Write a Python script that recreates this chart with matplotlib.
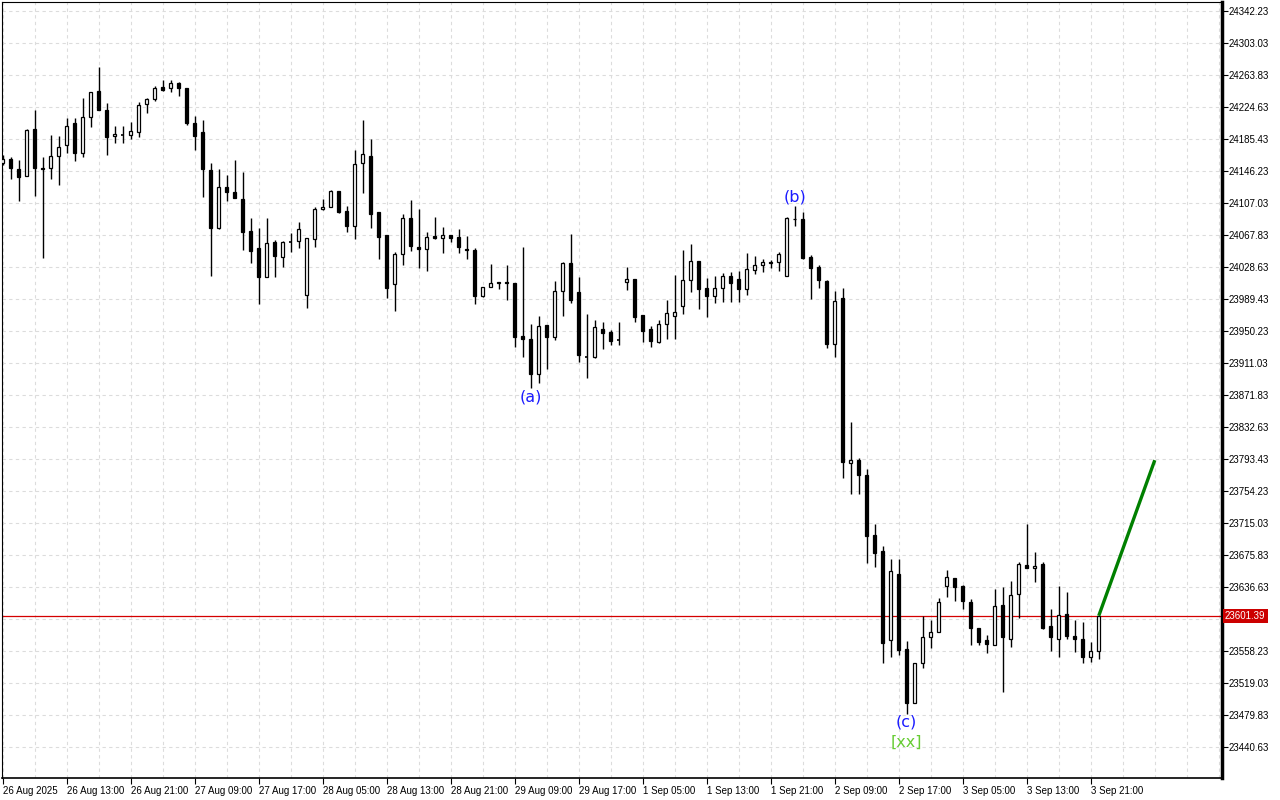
import matplotlib.pyplot as plt
import matplotlib.transforms as mtransforms

# hourly OHLC, 26 Aug 2025 .. 3 Sep 2025
opens = [24156, 24161, 24149, 24140, 24198, 24150, 24150, 24165, 24178, 24205,
         24168, 24212, 24244, 24221, 24189, 24190, 24190, 24194, 24228, 24234,
         24249, 24248, 24254, 24248, 24205, 24194, 24147, 24076, 24127, 24120,
         24112, 24073, 24052, 24016, 24059, 24041, 24059, 24060, 23994, 24063,
         24100, 24102, 24122, 24097, 24079, 24156, 24165, 24096, 24068, 24008,
         24045, 24089, 24053, 24051, 24067, 24064, 24068, 24065, 24051, 24049,
         23993, 24004, 24010, 24010, 24009, 23944, 23940, 23898, 23958, 23943,
         23999, 24034, 23998, 23918, 23918, 23953, 23949, 23939, 24010, 24014,
         23970, 23953, 23937, 23959, 23969, 23981, 24013, 24036, 24003, 23993,
         24003, 24018, 24014, 24002, 24025, 24031, 24035, 24035, 24018, 24087,
         24087, 24041, 24029, 24011, 23934, 23991, 23788, 23792, 23774, 23700,
         23681, 23572, 23653, 23561, 23495, 23544, 23575, 23582, 23638, 23648,
         23638, 23618, 23586, 23572, 23566, 23615, 23573, 23628, 23664, 23660,
         23665, 23589, 23573, 23604, 23577, 23573, 23551, 23558]
highs = [24166, 24163, 24160, 24198, 24221, 24163, 24190, 24189, 24211, 24211,
         24236, 24243, 24274, 24230, 24201, 24201, 24206, 24231, 24236, 24250,
         24258, 24258, 24255, 24248, 24214, 24209, 24156, 24149, 24141, 24160,
         24145, 24089, 24076, 24089, 24062, 24060, 24070, 24084, 24064, 24102,
         24112, 24123, 24122, 24103, 24172, 24209, 24185, 24096, 24068, 24047,
         24094, 24111, 24100, 24071, 24090, 24078, 24068, 24075, 24067, 24052,
         24004, 24032, 24010, 24031, 24009, 24053, 23959, 23969, 23958, 24011,
         24035, 24069, 24016, 23971, 23964, 23961, 23951, 23961, 24029, 24014,
         23970, 23956, 23964, 23988, 24019, 24049, 24057, 24036, 24015, 24018,
         24021, 24023, 24024, 24046, 24042, 24038, 24037, 24047, 24090, 24103,
         24096, 24043, 24031, 24013, 23999, 24003, 23839, 23795, 23781, 23714,
         23687, 23671, 23671, 23570, 23544, 23601, 23596, 23623, 23657, 23648,
         23639, 23622, 23586, 23578, 23634, 23637, 23644, 23667, 23714, 23680,
         23667, 23610, 23638, 23631, 23596, 23594, 23569, 23601]
lows = [24154, 24136, 24109, 24140, 24116, 24040, 24136, 24129, 24168, 24158,
        24163, 24200, 24221, 24166, 24181, 24181, 24185, 24188, 24217, 24232,
        24244, 24243, 24238, 24203, 24172, 24114, 24018, 24075, 24109, 24113,
        24049, 24034, 23983, 24016, 24016, 24029, 24047, 24052, 23978, 24053,
        24098, 24102, 24095, 24071, 24063, 24119, 24076, 24038, 23991, 23975,
        24031, 24048, 24027, 24024, 24063, 24046, 24059, 24046, 24038, 23983,
        23992, 24004, 24002, 23988, 23931, 23918, 23880, 23887, 23904, 23939,
        23969, 23985, 23912, 23893, 23917, 23928, 23933, 23933, 24000, 23961,
        23937, 23931, 23935, 23940, 23940, 23971, 23998, 23977, 23967, 23985,
        23986, 23986, 23986, 23994, 24020, 24023, 24027, 24024, 24018, 24079,
        24038, 23989, 24003, 23929, 23918, 23770, 23751, 23751, 23666, 23661,
        23544, 23551, 23553, 23481, 23495, 23537, 23562, 23582, 23624, 23619,
        23610, 23566, 23566, 23556, 23566, 23508, 23563, 23599, 23660, 23643,
        23585, 23558, 23551, 23573, 23557, 23544, 23545, 23548]
closes = [24161, 24150, 24139, 24196, 24150, 24149, 24165, 24176, 24201, 24168,
          24212, 24243, 24221, 24188, 24192, 24190, 24195, 24227, 24234, 24248,
          24245, 24254, 24248, 24205, 24189, 24149, 24076, 24127, 24120, 24113,
          24071, 24048, 24016, 24058, 24042, 24059, 24059, 24075, 24064, 24100,
          24102, 24122, 24096, 24079, 24155, 24167, 24094, 24065, 24003, 24045,
          24089, 24054, 24051, 24065, 24064, 24068, 24064, 24053, 24049, 23993,
          24004, 24009, 24009, 24009, 23943, 23940, 23898, 23956, 23943, 23999,
          24034, 23988, 23921, 23918, 23955, 23948, 23938, 23939, 24014, 23967,
          23950, 23938, 23959, 23972, 23974, 24013, 24036, 24002, 23993, 24003,
          24018, 24009, 24002, 24026, 24031, 24035, 24034, 24045, 24089, 24088,
          24040, 24027, 24013, 23934, 23987, 23790, 23792, 23774, 23699, 23678,
          23568, 23656, 23559, 23495, 23544, 23575, 23582, 23618, 23649, 23637,
          23619, 23586, 23569, 23567, 23613, 23575, 23627, 23665, 23660, 23662,
          23586, 23575, 23602, 23577, 23573, 23551, 23558, 23601.39]

time_labels = ["26 Aug 2025", "26 Aug 13:00", "26 Aug 21:00", "27 Aug 09:00",
               "27 Aug 17:00", "28 Aug 05:00", "28 Aug 13:00", "28 Aug 21:00",
               "29 Aug 09:00", "29 Aug 17:00", "1 Sep 05:00", "1 Sep 13:00",
               "1 Sep 21:00", "2 Sep 09:00", "2 Sep 17:00", "3 Sep 05:00",
               "3 Sep 13:00", "3 Sep 21:00"]
label_idx = [0, 8, 16, 24, 32, 40, 48, 56, 64, 72, 80, 88, 96, 104, 112, 120, 128, 136]

price_ticks = [23440.63, 23479.83, 23519.03, 23558.23, 23597.43, 23636.63,
               23675.83, 23715.03, 23754.23, 23793.43, 23832.63, 23871.83,
               23911.03, 23950.23, 23989.43, 24028.63, 24067.83, 24107.03,
               24146.23, 24185.43, 24224.63, 24263.83, 24303.03, 24342.23]

last_price = 23601.39
target_idx = 144
target_price = 23792

wave_names = ["(a)", "(b)", "(c)"]
wave_idx = [66, 99, 113]
wave_price = [23869, 24114, 23471]
degree_name = "[xx]"
degree_price = 23447

plt.rcParams['font.family'] = ['Liberation Sans', 'DejaVu Sans']

fig = plt.figure(figsize=(12.8, 8), dpi=100)
ax = fig.add_axes([1.5 / 1280, 22 / 800, 1220.5 / 1280, 776 / 800])

n = len(closes)
xs = list(range(n))

# wicks
ax.vlines(xs, lows, highs, color='black', lw=1, zorder=2)

# bodies
for i in xs:
    o, c = opens[i], closes[i]
    bottom = min(o, c)
    h = abs(c - o)
    face = 'white' if c > o else 'black'
    if h < 0.6:
        ax.hlines(o, i - 0.22, i + 0.22, color='black', lw=1.2, zorder=3)
    else:
        ax.bar(i, h, bottom=bottom, width=0.42, color=face,
               edgecolor='black', linewidth=0.9, zorder=3)

# projection line
ax.plot([n - 1, target_idx], [last_price, target_price], color='#008000',
        lw=2.4, zorder=4, solid_capstyle='butt')

# current price line
ax.axhline(last_price, color='#d40000', lw=0.9, zorder=1)

# wave labels
for name, i, p in zip(wave_names, wave_idx, wave_price):
    ax.text(i, p, name, color='#1a1aff', fontsize=11.5, ha='center',
            va='center', family='DejaVu Sans', zorder=5)
ax.text(wave_idx[2], degree_price, degree_name, color='#66cc33', fontsize=11.5,
        ha='center', va='center', family='DejaVu Sans', zorder=5)

ax.set_xlim(-0.125, 152.4)
ax.set_ylim(23402.66, 24353.26)

# grid
ax.set_xticks(label_idx)
ax.set_xticks(range(0, 153, 4), minor=True)
ax.set_yticks(price_ticks)
ax.grid(True, which='both', axis='x', color='#dcdcdc', ls=(0, (3, 3)), lw=0.8)
ax.grid(True, which='major', axis='y', color='#dcdcdc', ls=(0, (3, 3)), lw=0.8)
ax.set_axisbelow(True)

ax.set_xticklabels(time_labels, ha='left', fontsize=7)
ax.tick_params(axis='x', which='major', length=4, width=0.8, pad=1.5,
               direction='out')
ax.tick_params(axis='x', which='minor', length=0)

ax.yaxis.tick_right()
# the tick right under the price tag is hidden by it, as in the terminal
ylabels = ["" if abs(v - last_price) < 10 else f"{v:.2f}" for v in price_ticks]
ax.set_yticklabels(ylabels, fontsize=7)
ax.tick_params(axis='y', length=4, width=0.8, pad=1)

for s in ax.spines.values():
    s.set_color('black')
    s.set_linewidth(0.8)
ax.spines['right'].set_linewidth(2.5)
ax.spines['bottom'].set_linewidth(1.2)

# price tag on the right axis
tr = mtransforms.blended_transform_factory(ax.transAxes, ax.transData)
ax.text(1.0025, last_price, f"{last_price:.2f}", transform=tr, color='white',
        fontsize=7, ha='left', va='center', zorder=6, clip_on=False,
        bbox=dict(boxstyle='square,pad=0.22', fc='#cc0000', ec='none'))

fig.savefig('out.png', dpi=100, facecolor='white')
